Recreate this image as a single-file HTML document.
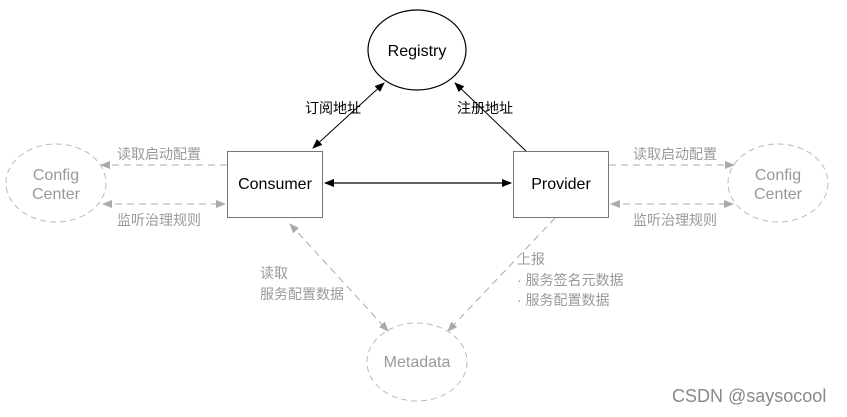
<!DOCTYPE html>
<html><head><meta charset="utf-8"><style>
html,body{margin:0;padding:0;background:#fff;}
svg{display:block}
text{font-family:"Liberation Sans","Noto Sans CJK SC",sans-serif;}
</style></head><body>
<svg width="847" height="417" viewBox="0 0 847 417" xmlns="http://www.w3.org/2000/svg">
<defs>
<marker id="ab" markerWidth="10" markerHeight="8" refX="9" refY="4" orient="auto-start-reverse" markerUnits="userSpaceOnUse"><path d="M0,0 L10,4 L0,8 z" fill="#000"/></marker>
<marker id="ag" markerWidth="10" markerHeight="8" refX="9" refY="4" orient="auto-start-reverse" markerUnits="userSpaceOnUse"><path d="M0,0 L10,4 L0,8 z" fill="#aaa"/></marker>
</defs>
<ellipse cx="417" cy="50" rx="49" ry="40" fill="#fff" stroke="#000" stroke-width="1.2"/>
<text x="417" y="56" font-size="16" text-anchor="middle" fill="#000">Registry</text>
<rect x="227.5" y="151.5" width="95" height="66" fill="#fff" stroke="#777" stroke-width="1"/>
<text x="275" y="189" font-size="16" text-anchor="middle">Consumer</text>
<rect x="513.5" y="151.5" width="95" height="66" fill="#fff" stroke="#777" stroke-width="1"/>
<text x="561" y="189" font-size="16" text-anchor="middle">Provider</text>
<ellipse cx="56" cy="183" rx="50" ry="39" fill="none" stroke="#bbb" stroke-dasharray="6,4"/>
<text x="56" y="180" font-size="16" text-anchor="middle" fill="#999">Config</text>
<text x="56" y="199" font-size="16" text-anchor="middle" fill="#999">Center</text>
<ellipse cx="778" cy="183" rx="50" ry="39" fill="none" stroke="#bbb" stroke-dasharray="6,4"/>
<text x="778" y="180" font-size="16" text-anchor="middle" fill="#999">Config</text>
<text x="778" y="199" font-size="16" text-anchor="middle" fill="#999">Center</text>
<ellipse cx="417" cy="362" rx="50" ry="39" fill="none" stroke="#bbb" stroke-dasharray="6,4"/>
<text x="417" y="367" font-size="16" text-anchor="middle" fill="#999">Metadata</text>
<line x1="313" y1="148" x2="384" y2="83" stroke="#000" stroke-width="1" marker-start="url(#ab)" marker-end="url(#ab)"/>
<line x1="526" y1="151" x2="455" y2="83" stroke="#000" stroke-width="1" marker-end="url(#ab)"/>
<line x1="325" y1="183" x2="511" y2="183" stroke="#000" stroke-width="1.2" marker-start="url(#ab)" marker-end="url(#ab)"/>
<g stroke="#aaa" stroke-width="1" stroke-dasharray="7,5" fill="none">
<line x1="227" y1="165" x2="101" y2="165" marker-end="url(#ag)"/>
<line x1="103" y1="204" x2="225" y2="204" marker-start="url(#ag)" marker-end="url(#ag)"/>
<line x1="609" y1="165" x2="734" y2="165" marker-end="url(#ag)"/>
<line x1="611" y1="204" x2="733" y2="204" marker-start="url(#ag)" marker-end="url(#ag)"/>
<line x1="290" y1="224" x2="388" y2="331" marker-start="url(#ag)" marker-end="url(#ag)"/>
<line x1="555" y1="218" x2="448" y2="331" marker-end="url(#ag)"/>
</g>
<g font-size="14">
<text x="305" y="113" fill="#000">订阅地址</text>
<text x="457" y="113" fill="#000">注册地址</text>
<text x="117" y="159" fill="#999">读取启动配置</text>
<text x="117" y="225" fill="#999">监听治理规则</text>
<text x="633" y="159" fill="#999">读取启动配置</text>
<text x="633" y="225" fill="#999">监听治理规则</text>
<text x="260" y="278" fill="#999">读取</text>
<text x="260" y="299" fill="#999">服务配置数据</text>
<text x="517" y="264" fill="#999">上报</text>
<text x="517" y="285" fill="#999">· 服务签名元数据</text>
<text x="517" y="305" fill="#999">· 服务配置数据</text>
</g>
<text x="672" y="402" font-size="18" fill="#888" font-family="'DejaVu Sans',sans-serif">CSDN @saysocool</text>
</svg>
</body></html>
